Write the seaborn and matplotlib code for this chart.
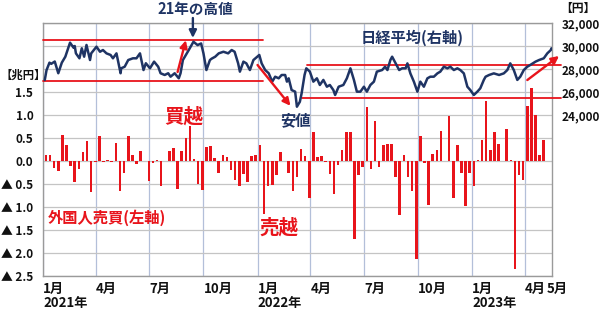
import numpy as np
import pandas as pd
import matplotlib
matplotlib.use("Agg")
import matplotlib.pyplot as plt
import matplotlib.dates as mdates
from matplotlib.transforms import ScaledTranslation
import seaborn as sns

# ---------------- data ----------------
# weekly net purchase by foreign investors (trillion yen), weeks starting 2021-01-06
flow_start = "2021-01-06"
flows = [
    0.13, 0.14, -0.15, -0.22, 0.57, 0.35, -0.11, -0.45, -0.18, 0.20,
    0.44, -0.67, -0.03, 0.55, -0.02, 0.03, -0.02, 0.39, -0.66, -0.27,
    0.54, 0.12, -0.07, 0.22, -0.01, -0.43, -0.05, 0.02, -0.55, 0.01,
    0.22, 0.28, -0.60, 0.21, 0.50, 0.77, 0.04, -0.50, -0.64, 0.30,
    0.32, 0.06, -0.27, 0.12, 0.08, -0.20, -0.42, -0.55, -0.28, -0.45,
    0.10, 0.14, 0.35, -1.15, -0.55, -0.53, -0.30, 0.20, 0.00, -0.25,
    -0.65, -0.35, 0.26, 0.10, -0.80, 0.62, 0.08, 0.11, -0.02, -0.28,
    -0.72, -0.08, 0.25, 0.63, 0.63, -1.70, -0.30, -0.12, 1.17, -0.17,
    0.88, -0.12, 0.34, 0.38, 0.38, -0.35, -1.17, 0.12, -0.35, -0.65,
    -2.12, 0.55, -0.05, -0.95, 0.15, 0.25, 0.65, 0.00, 0.97, -0.80,
    0.35, -0.25, -0.97, -0.25, -0.55, 0.03, 0.45, 1.31, 0.25, 0.63,
    0.37, 0.00, 0.70, 0.03, -2.35, -0.30, -0.42, 1.20, 1.58, 1.00,
    0.13, 0.45,
]

nikkei_dates = [
    "2021-01-04", "2021-01-07", "2021-01-12", "2021-01-15", "2021-01-21", "2021-01-27",
    "2021-02-02", "2021-02-08", "2021-02-16", "2021-02-22", "2021-02-24", "2021-02-26",
    "2021-03-04", "2021-03-08", "2021-03-12", "2021-03-16", "2021-03-22", "2021-03-24",
    "2021-04-02", "2021-04-08", "2021-04-13", "2021-04-19", "2021-04-26", "2021-04-30",
    "2021-05-06", "2021-05-13", "2021-05-14", "2021-05-20", "2021-05-26", "2021-06-03",
    "2021-06-09", "2021-06-15", "2021-06-21", "2021-06-25", "2021-07-02", "2021-07-09",
    "2021-07-16", "2021-07-20", "2021-07-27", "2021-08-02", "2021-08-06", "2021-08-13",
    "2021-08-20", "2021-08-23", "2021-08-27", "2021-09-06", "2021-09-14", "2021-09-21",
    "2021-09-27", "2021-10-01", "2021-10-06", "2021-10-12", "2021-10-15", "2021-10-21",
    "2021-10-27", "2021-11-04", "2021-11-12", "2021-11-18", "2021-11-23", "2021-11-29",
    "2021-12-02", "2021-12-08", "2021-12-13", "2021-12-19", "2021-12-25", "2022-01-04",
    "2022-01-08", "2022-01-14", "2022-01-20", "2022-01-26", "2022-01-31", "2022-02-06",
    "2022-02-11", "2022-02-17", "2022-02-20", "2022-02-23", "2022-02-28", "2022-03-06",
    "2022-03-09", "2022-03-14", "2022-03-17", "2022-03-22", "2022-03-25", "2022-03-31",
    "2022-04-06", "2022-04-12", "2022-04-17", "2022-04-23", "2022-04-29", "2022-05-04",
    "2022-05-10", "2022-05-13", "2022-05-19", "2022-05-27", "2022-06-02", "2022-06-08",
    "2022-06-14", "2022-06-19", "2022-06-25", "2022-07-01", "2022-07-06", "2022-07-12",
    "2022-07-18", "2022-07-23", "2022-08-01", "2022-08-06", "2022-08-10", "2022-08-15",
    "2022-08-18", "2022-08-24", "2022-08-30", "2022-09-04", "2022-09-10", "2022-09-13",
    "2022-09-18", "2022-09-24", "2022-09-30", "2022-10-05", "2022-10-11", "2022-10-17",
    "2022-10-22", "2022-10-28", "2022-11-03", "2022-11-08", "2022-11-14", "2022-11-20",
    "2022-11-25", "2022-12-01", "2022-12-07", "2022-12-12", "2022-12-18", "2022-12-24",
    "2022-12-29", "2023-01-04", "2023-01-10", "2023-01-15", "2023-01-21", "2023-01-24",
    "2023-01-30", "2023-02-07", "2023-02-16", "2023-02-24", "2023-03-02", "2023-03-07",
    "2023-03-13", "2023-03-19", "2023-03-24", "2023-03-30", "2023-04-05", "2023-04-10",
    "2023-04-19", "2023-04-25", "2023-05-03", "2023-05-09", "2023-05-15", "2023-05-16",
]
nikkei_values = [
    27040, 27900, 28550, 28450, 28650, 27630,
    28550, 29070, 30290, 29850, 30000, 29360,
    28930, 29800, 29070, 30090, 28780, 29360,
    29940, 29500, 29650, 29360, 29220, 28930,
    29360, 27630, 28060, 28200, 28780, 28930,
    28930, 29360, 27910, 28500, 28060, 28640,
    28200, 27630, 27480, 27630, 27330, 27630,
    27190, 27630, 28780, 29650, 30370, 30080,
    30220, 29360, 27910, 28780, 28900, 29070,
    29360, 29500, 29360, 29650, 29500, 28490,
    27770, 28640, 28490, 27910, 28780, 29220,
    28490, 27910, 27630, 26900, 27330, 27190,
    27480, 27480, 26900, 27190, 26170, 26030,
    24720, 25150, 25880, 27480, 28060, 27770,
    26900, 27190, 26610, 27050, 26460, 26610,
    26170, 25740, 26460, 26610, 27190, 28060,
    27050, 26030, 26030, 26460, 26030, 26610,
    26900, 27770, 27910, 28200, 27910, 28780,
    29070, 28490, 27910, 28060, 28060, 28490,
    27620, 26900, 26030, 26900, 26460, 27190,
    27330, 27330, 27620, 27770, 28200, 28060,
    28200, 27910, 28060, 27910, 27620, 26460,
    26170, 25740, 26030, 26320, 27050, 27330,
    27480, 27620, 27480, 27620, 27910, 28490,
    27910, 27050, 27330, 27910, 28200, 28350,
    28640, 28780, 28930, 29360, 29650, 29800,
]

quarter_ticks = ["2021-01-01", "2021-04-01", "2021-07-01", "2021-10-01",
                 "2022-01-01", "2022-04-01", "2022-07-01", "2022-10-01",
                 "2023-01-01", "2023-04-01"]
quarter_labels = ["1月\n2021年", "4月", "7月", "10月",
                  "1月\n2022年", "4月", "7月", "10月",
                  "1月\n2023年", "4月"]
extra_tick = "2023-05-01"
extra_label = "5月"

left_ticks = [-2.5, -2.0, -1.5, -1.0, -0.5, 0.0, 0.5, 1.0, 1.5, 2.0, 2.5, 3.0]
right_ticks = list(range(10000, 32001, 2000))

# ---------------- style ----------------
RED = "#e8141b"
NAVY = "#1f3464"
GRID_H = "#c4c4c4"
GRID_V = "#b3bfd9"
FRAME = "#9a9a9a"
TXT = "#111111"

sns.set_style("white")
plt.rcParams["font.family"] = ["Noto Sans CJK JP", "DejaVu Sans"]

W, H = 600, 311
fig = plt.figure(figsize=(W / 100, H / 100), dpi=100)
ax = fig.add_axes([43 / W, 35 / H, 509 / W, 253 / H])


def P(x, y):
    return x / W, 1 - y / H


dn = lambda s: mdates.date2num(pd.Timestamp(s))

# bars (left axis)
bar_dates = pd.date_range(flow_start, periods=len(flows), freq="7D")
bar_df = pd.DataFrame({"x": mdates.date2num(bar_dates), "flow": flows})
sns.barplot(data=bar_df, x="x", y="flow", native_scale=True, width=0.62,
            color=RED, saturation=1, linewidth=0, errorbar=None, ax=ax,
            orient="x")

# line (right axis)
ax2 = ax.twinx()
line_df = pd.DataFrame({"x": mdates.date2num(pd.to_datetime(nikkei_dates)),
                        "v": nikkei_values})
sns.lineplot(data=line_df, x="x", y="v", estimator=None, color=NAVY,
             linewidth=1.8, ax=ax2, zorder=5)

x0, x1 = dn("2021-01-01"), dn("2023-05-17")
ax.set_xlim(x0, x1)
ax.set_ylim(-2.5, 3.0)
ax2.set_ylim(10000, 32000)


def left_fmt(v):
    if v > 1.5:
        return ""
    if v < 0:
        return f"▲ {abs(v):.1f}"
    return f"{v:.1f}"


ax.set_yticks(left_ticks)
ax.set_yticklabels([left_fmt(v) for v in left_ticks])
ax2.set_yticks(right_ticks)
ax2.set_yticklabels([f"{v:,}" if v >= 24000 else "" for v in right_ticks])

ax.set_xticks([dn(d) for d in quarter_ticks])
ax.set_xticklabels(quarter_labels)
ax.set_xticks([dn(extra_tick)], minor=True)
ax.set_xticklabels([extra_label], minor=True)

for a in (ax, ax2):
    a.set_xlabel("")
    a.set_ylabel("")
    a.tick_params(axis="both", which="both", length=0)

ax.tick_params(axis="y", pad=7, labelsize=8.5)
ax2.tick_params(axis="y", pad=7, labelsize=8.5)
ax.tick_params(axis="x", which="both", pad=4, labelsize=9.5)

for lbl in ax.get_yticklabels() + ax2.get_yticklabels():
    lbl.set_fontweight("bold")
    lbl.set_color(TXT)
for lbl in ax.get_xticklabels() + ax.get_xticklabels(minor=True):
    lbl.set_fontweight("bold")
    lbl.set_color(TXT)
    lbl.set_horizontalalignment("left")
    lbl.set_linespacing(1.02)
for lbl in ax.get_xticklabels(minor=True):
    lbl.set_transform(lbl.get_transform() + ScaledTranslation(3 / 72, 0, fig.dpi_scale_trans))

ax.set_axisbelow(True)
ax.grid(axis="y", color=GRID_H, linewidth=0.9)
ax.grid(axis="x", which="major", color=GRID_V, linewidth=0.9)
ax2.grid(False)
for s in ax.spines.values():
    s.set_visible(True)
    s.set_color(FRAME)
    s.set_linewidth(1.0)
for s in ax2.spines.values():
    s.set_visible(False)

# guide lines (annotations)
guides = [
    ("2021-01-01", "2022-01-10", 30565),
    ("2021-01-01", "2022-01-11", 26985),
    ("2022-03-26", "2023-06-02", 28350),
    ("2022-03-17", "2023-06-02", 25500),
]
for a_, b_, v in guides:
    ax2.plot([dn(a_), dn(b_)], [v, v], color=RED, lw=1.3, clip_on=False, zorder=4)

arrows = [
    (("2021-08-18", 27740), ("2021-09-01", 30500), RED),
    (("2022-01-01", 28350), ("2022-02-26", 24800), RED),
    (("2023-04-05", 27040), ("2023-05-29", 29130), RED),
    (("2021-09-13", 32435), ("2021-09-13", 30700), NAVY),
]
for (sd, sv), (ed, ev), c in arrows:
    ax2.annotate("", xy=(dn(ed), ev), xytext=(dn(sd), sv),
                 arrowprops=dict(arrowstyle="-|>", color=c, lw=1.7,
                                 mutation_scale=11, shrinkA=0, shrinkB=0),
                 annotation_clip=False, zorder=6)

# texts
fig.text(*P(195, 9), "21年の高値", color=NAVY, fontsize=10.5, fontweight="bold",
         ha="center", va="center")
fig.text(*P(412, 38), "日経平均(右軸)", color=NAVY, fontsize=11, fontweight="bold",
         ha="center", va="center")
fig.text(*P(295, 120), "安値", color=NAVY, fontsize=11, fontweight="bold",
         ha="center", va="center")
fig.text(*P(184, 117), "買越", color=RED, fontsize=14, fontweight="bold",
         ha="center", va="center")
fig.text(*P(279, 228), "売越", color=RED, fontsize=14, fontweight="bold",
         ha="center", va="center")
fig.text(*P(48, 218), "外国人売買(左軸)", color=RED, fontsize=11, fontweight="bold",
         ha="left", va="center")
fig.text(*P(0.5, 75), "【兆円】", color=TXT, fontsize=8.2, fontweight="bold",
         ha="left", va="center")
fig.text(*P(578, 8), "【円】", color=TXT, fontsize=8.5, fontweight="bold",
         ha="center", va="center")

fig.savefig("out.png", dpi=100)
